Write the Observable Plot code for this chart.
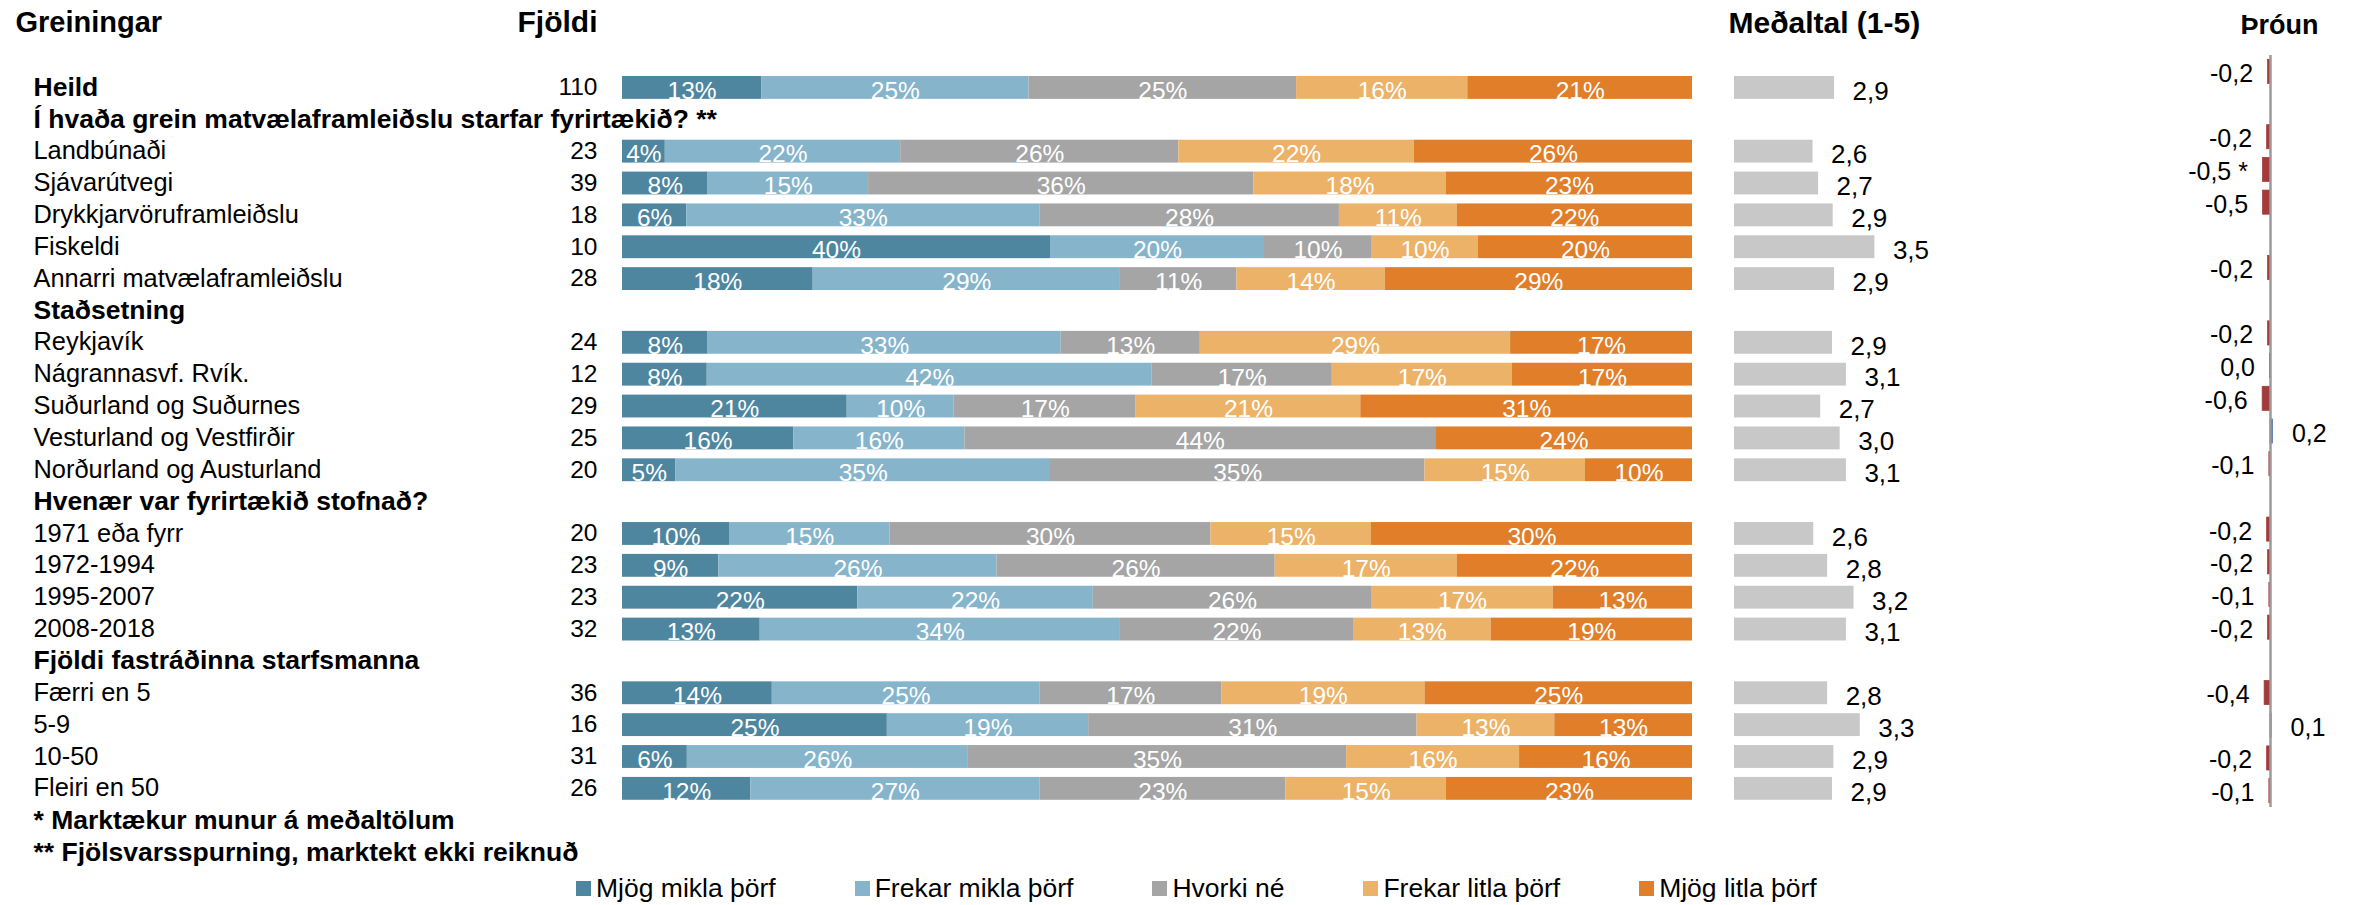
<!DOCTYPE html>
<html>
<head>
<meta charset="utf-8">
<script src="https://cdn.jsdelivr.net/npm/d3@7"></script>
<script src="https://cdn.jsdelivr.net/npm/@observablehq/plot@0.6"></script>
<style>
  html, body { margin: 0; padding: 0; background: #fff; }
  #wrap { position: relative; width: 2354px; height: 905px; overflow: hidden; }
  #wrap > svg { position: absolute; left: 0; top: 0; }
  #legend { position: absolute; left: 576px; top: 872px; width: 1600px; }
  .lg-swatch { margin-right: 79px !important; }
  .lg-swatch > svg { margin-right: 5px !important; }
</style>
</head>
<body>
<div id="wrap"><div id="legend"></div></div>
<script>
// ---------- data ----------
const categories = ["Mjög mikla þörf", "Frekar mikla þörf", "Hvorki né", "Frekar litla þörf", "Mjög litla þörf"];
const colors = ["#4e86a0", "#86b5cb", "#a5a5a5", "#ecb267", "#e07e2a"];

const rowOrder = [
  "Heild",
  "Í hvaða grein matvælaframleiðslu starfar fyrirtækið? **",
  "Landbúnaði", "Sjávarútvegi", "Drykkjarvöruframleiðslu", "Fiskeldi", "Annarri matvælaframleiðslu",
  "Staðsetning",
  "Reykjavík", "Nágrannasvf. Rvík.", "Suðurland og Suðurnes", "Vesturland og Vestfirðir", "Norðurland og Austurland",
  "Hvenær var fyrirtækið stofnað?",
  "1971 eða fyrr", "1972-1994", "1995-2007", "2008-2018",
  "Fjöldi fastráðinna starfsmanna",
  "Færri en 5", "5-9", "10-50", "Fleiri en 50"
];
const boldRows = ["Heild", "Í hvaða grein matvælaframleiðslu starfar fyrirtækið? **", "Staðsetning",
  "Hvenær var fyrirtækið stofnað?", "Fjöldi fastráðinna starfsmanna"];
const footnotes = ["* Marktækur munur á meðaltölum", "** Fjölsvarsspurning, marktekt ekki reiknuð"];

const rows = ["Heild", "Landbúnaði", "Sjávarútvegi", "Drykkjarvöruframleiðslu", "Fiskeldi", "Annarri matvælaframleiðslu",
  "Reykjavík", "Nágrannasvf. Rvík.", "Suðurland og Suðurnes", "Vesturland og Vestfirðir", "Norðurland og Austurland",
  "1971 eða fyrr", "1972-1994", "1995-2007", "2008-2018", "Færri en 5", "5-9", "10-50", "Fleiri en 50"];
const counts      = [110, 23, 39, 18, 10, 28, 24, 12, 29, 25, 20, 20, 23, 23, 32, 36, 16, 31, 26];
const mjogMikla   = [13,  4,  8,  6, 40, 18,  8,  8, 21, 16,  5, 10,  9, 22, 13, 14, 25,  6, 12];
const frekarMikla = [25, 22, 15, 33, 20, 29, 33, 42, 10, 16, 35, 15, 26, 22, 34, 25, 19, 26, 27];
const hvorki      = [25, 26, 36, 28, 10, 11, 13, 17, 17, 44, 35, 30, 26, 26, 22, 17, 31, 35, 23];
const frekarLitla = [16, 22, 18, 11, 10, 14, 29, 17, 21,  0, 15, 15, 17, 17, 13, 19, 13, 16, 15];
const mjogLitla   = [21, 26, 23, 22, 20, 29, 17, 17, 31, 24, 10, 30, 22, 13, 19, 25, 13, 16, 23];
const means       = [2.94, 2.63, 2.71, 2.92, 3.52, 2.94, 2.91, 3.11, 2.74, 3.02, 3.11, 2.64, 2.84, 3.22, 3.11, 2.84, 3.31, 2.93, 2.91];
const trend       = [-0.17, -0.24, -0.54, -0.53, null, -0.17, -0.17, -0.04, -0.56, 0.17, -0.08, -0.24, -0.17, -0.08, -0.17, -0.42, 0.08, -0.24, -0.08];
const trendSignificant = ["Sjávarútvegi"];
const meanAxis = [1.5, 5];
const trendAxis = [-1, 1];

// ---------- tables ----------
const series = [mjogMikla, frekarMikla, hvorki, frekarLitla, mjogLitla];
const stacked = rows.flatMap((r, i) => categories.map((c, j) => ({row: r, cat: c, pct: series[j][i]})));
const table = rows.map((r, i) => ({row: r, count: counts[i], mean: means[i], trend: trend[i]}));
const trendRows = table.filter(d => d.trend != null);
const comma = v => (Math.round(v * 10) / 10).toFixed(1).replace(".", ",");

const W = 2354, H = 870;
const font = "'Liberation Sans', Arial, sans-serif";
const baseStyle = {fontFamily: font, background: "transparent", color: "#000", overflow: "visible", maxWidth: "none"};
const yDomain = rowOrder.concat(footnotes);
const step = 31.86;
const yMain = {type: "band", domain: yDomain, range: [71, 71 + step * yDomain.length], padding: 0, round: false, axis: null};

const wrap = document.getElementById("wrap");
const header = (t, dx, dy, size, anchor) => Plot.text([t], {text: d => d, frameAnchor: "top-left", lineAnchor: "middle",
  dx, dy, textAnchor: anchor, fontSize: size, fontWeight: "bold", fill: "#000"});

// ---------- main stacked bars + labels ----------
const main = Plot.plot({
  width: W, height: H, margin: 0,
  style: baseStyle,
  x: {domain: [0, 1], range: [622, 1692], axis: null},
  y: yMain,
  color: {domain: categories, range: colors},
  marks: [
    Plot.barX(stacked, Plot.stackX({offset: "normalize", order: categories, x: "pct", y: "row", fill: "cat", insetTop: 5, insetBottom: 4})),
    Plot.text(stacked.filter(d => d.pct > 0), Plot.stackX({offset: "normalize", order: categories, x: "pct", y: "row", z: "cat",
      text: d => d.pct + "%", fill: "white", fontSize: 24.5, dy: 3.5})),
    // row labels
    Plot.text(yDomain.filter(d => !boldRows.includes(d) && !footnotes.includes(d)), {y: d => d, text: d => d,
      frameAnchor: "left", lineAnchor: "middle", dx: 33, textAnchor: "start", fontSize: 25.4, fill: "#000"}),
    Plot.text(yDomain.filter(d => boldRows.includes(d) || footnotes.includes(d)), {y: d => d, text: d => d,
      frameAnchor: "left", lineAnchor: "middle", dx: 33, textAnchor: "start", fontSize: 26.5, fontWeight: "bold", fill: "#000"}),
    // counts
    Plot.text(table, {y: "row", text: "count", frameAnchor: "left", lineAnchor: "middle", dx: 597, textAnchor: "end", fontSize: 24.5, fill: "#000"}),
    // column headers
    header("Greiningar", 15, 22, 29, "start"),
    header("Fjöldi", 597, 22, 30, "end"),
    header("Meðaltal (1-5)", 1728, 23, 30, "start"),
    header("Þróun", 2240, 25, 27, "start")
  ]
});
wrap.appendChild(main);

// ---------- means ----------
const meanPlot = Plot.plot({
  width: W, height: H, margin: 0,
  style: baseStyle,
  x: {domain: meanAxis, range: [1734, 1734 + 69.5 * (meanAxis[1] - meanAxis[0])], axis: null},
  y: yMain,
  marks: [
    Plot.barX(table, {x1: meanAxis[0], x2: "mean", y: "row", fill: "#c8c8c8", insetTop: 5, insetBottom: 4}),
    Plot.text(table, {x: "mean", y: "row", text: d => comma(d.mean), textAnchor: "start", dx: 18, dy: 4, fontSize: 26, fill: "#000"})
  ]
});
wrap.appendChild(meanPlot);

// ---------- trend ----------
const trendPlot = Plot.plot({
  width: W, height: H, marginTop: 55, marginBottom: H - 807, marginLeft: 0, marginRight: 0,
  style: baseStyle,
  x: {domain: trendAxis, range: [2270 - 14, 2270 + 14], axis: null},
  y: {type: "band", domain: rowOrder, padding: 0, round: false, axis: null},
  color: {type: "identity"},
  marks: [
    Plot.barX(trendRows, {x: "trend", y: "row", fill: d => d.trend < 0 ? "#a33b3b" : "#4a6fa5",
      stroke: d => d.trend < 0 ? "#a33b3b" : "#4a6fa5", strokeWidth: 0.75, insetTop: 4.3, insetBottom: 4.3}),
    Plot.ruleX([0], {stroke: "#9a9a9a", strokeWidth: 2.5}),
    Plot.text(trendRows.filter(d => d.trend < 0), {x: "trend", y: "row",
      text: d => comma(d.trend) + (trendSignificant.includes(d.row) ? " *" : ""),
      textAnchor: "end", dx: -15, dy: 2, fontSize: 25, fill: "#000"}),
    Plot.text(trendRows.filter(d => d.trend >= 0), {x: "trend", y: "row", text: d => comma(d.trend),
      textAnchor: "start", dx: 19, dy: 2, fontSize: 25, fill: "#000"})
  ]
});
wrap.appendChild(trendPlot);

// ---------- legend ----------
const legend = Plot.legend({
  color: {type: "ordinal", domain: categories, range: colors},
  className: "lg",
  swatchSize: 15,
  style: {fontFamily: font, fontSize: "26.5px", color: "#000", background: "transparent"}
});
document.getElementById("legend").appendChild(legend);
</script>
</body>
</html>
